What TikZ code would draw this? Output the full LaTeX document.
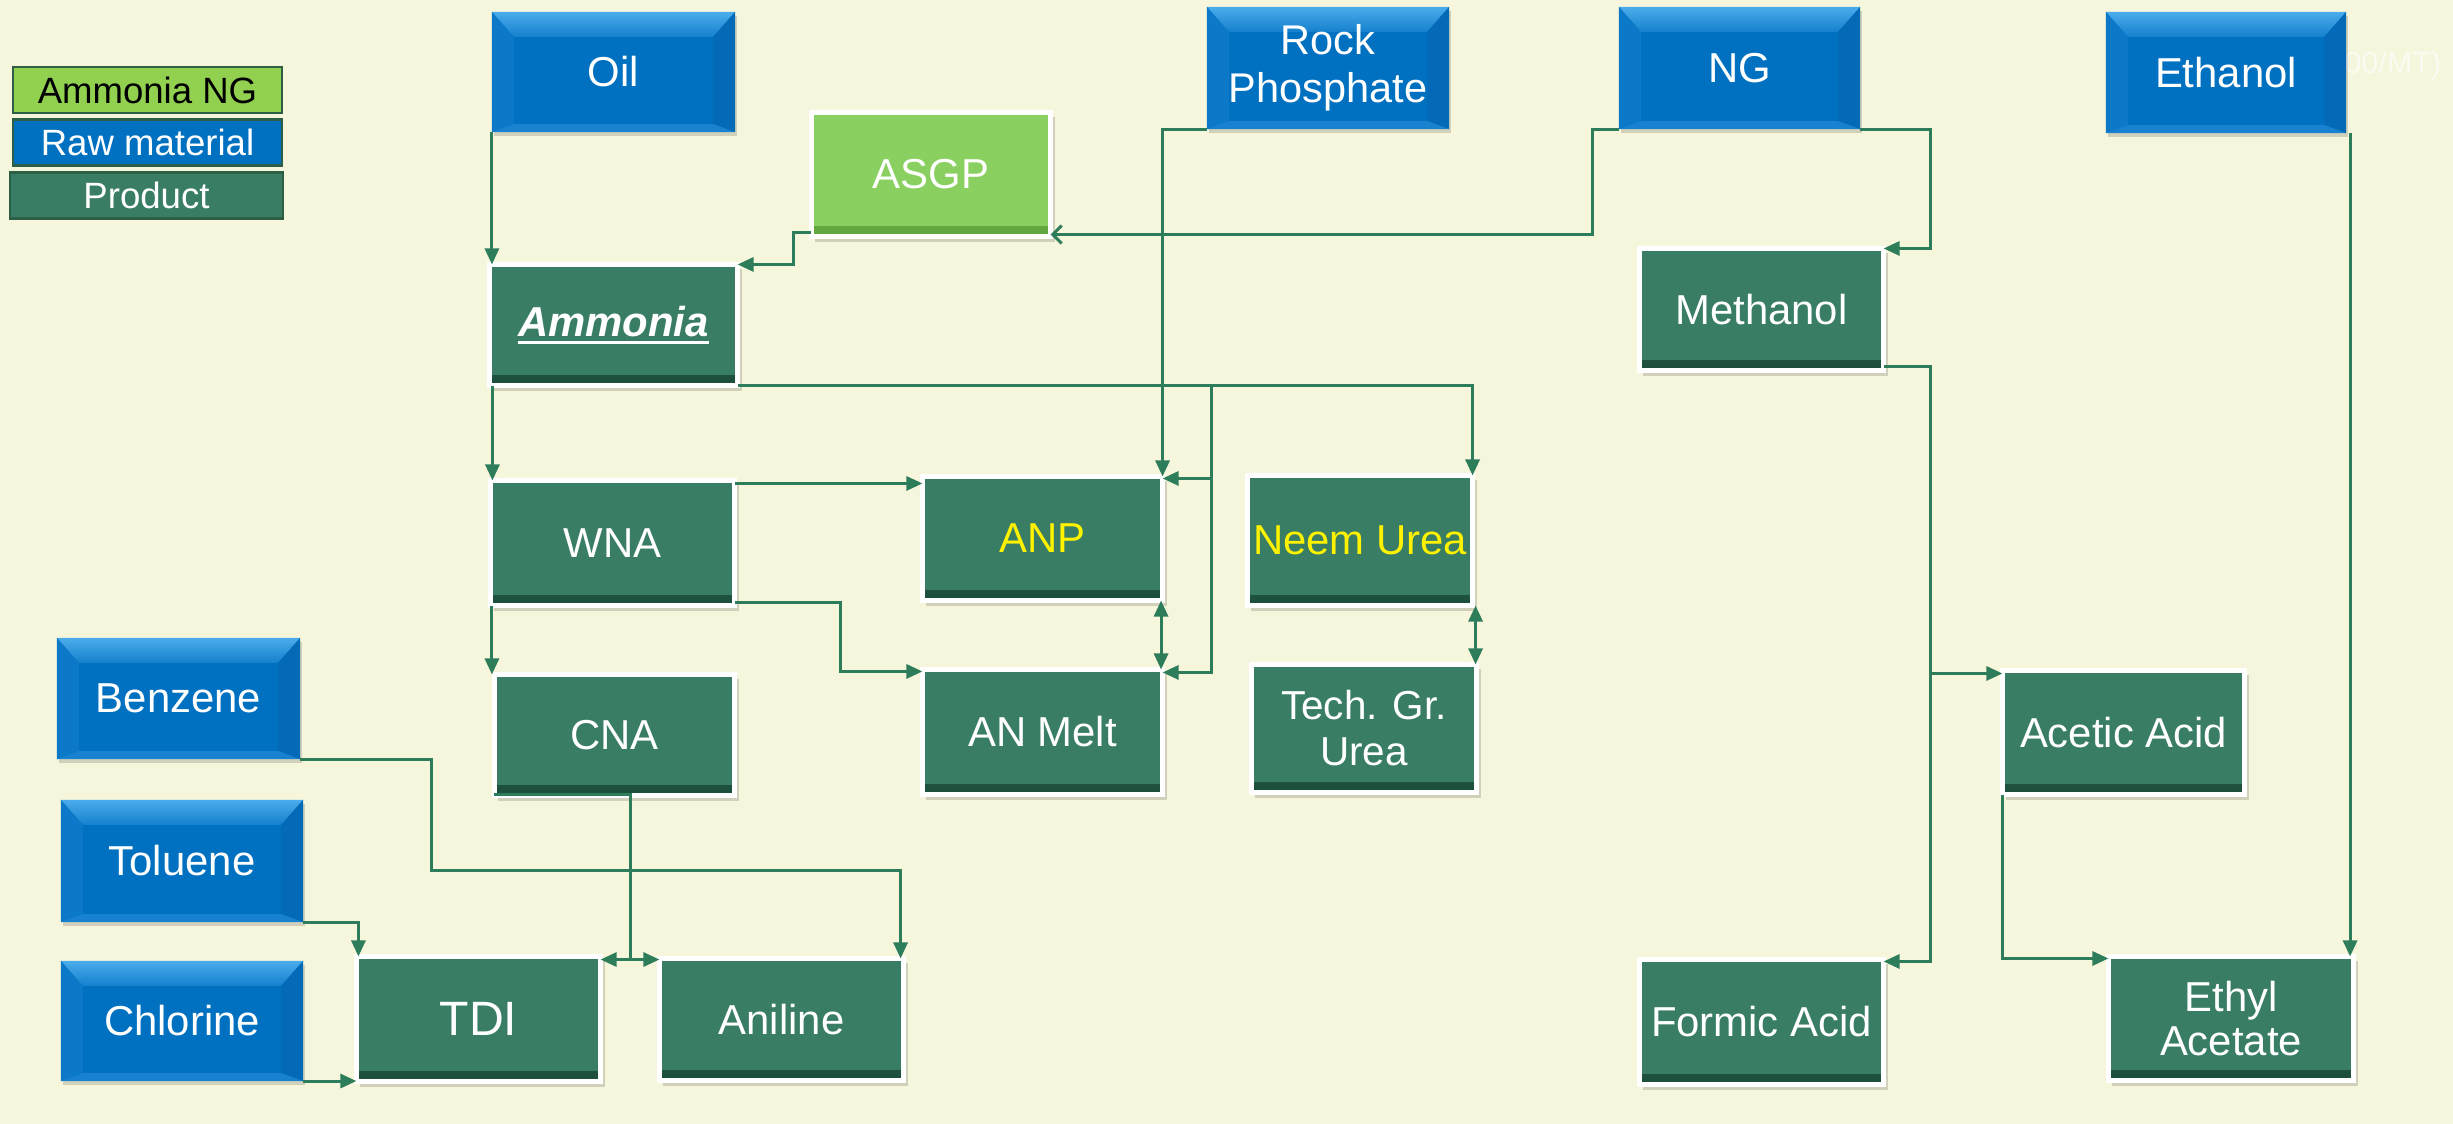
\documentclass[tikz,border=0pt]{standalone}
\usepackage{fontspec}
\setmainfont{Liberation Sans}
\usetikzlibrary{arrows.meta,shadows,calc}

\definecolor{bgc}{RGB}{246,246,220}
\definecolor{prodG}{RGB}{57,126,100}
\definecolor{prodD}{RGB}{28,78,58}
\definecolor{asgpG}{RGB}{138,208,96}
\definecolor{asgpD}{RGB}{95,165,60}
\definecolor{blueM}{RGB}{0,112,192}
\definecolor{blueTa}{RGB}{75,172,235}
\definecolor{blueTb}{RGB}{20,128,205}
\definecolor{blueL}{RGB}{12,120,200}
\definecolor{blueR}{RGB}{4,106,184}
\definecolor{blueB}{RGB}{25,130,208}
\definecolor{lineG}{RGB}{46,125,90}
\definecolor{legG}{RGB}{146,208,80}
\definecolor{legBd}{RGB}{45,95,70}

\newcommand\fB{\fontsize{11.9}{13.7}\selectfont}
\newcommand\fRP{\fontsize{11.8}{13.6}\selectfont}
\newcommand\fT{\fontsize{13.7}{15}\selectfont}
\newcommand\fL{\fontsize{10.4}{12}\selectfont}
\newcommand\fTG{\fontsize{11.5}{13.1}\selectfont}
\newcommand\fEA{\fontsize{11.9}{12.5}\selectfont}
\newcommand\fN{\fontsize{8.7}{10}\selectfont}
\newcommand\myul[1]{\sbox0{#1}\rlap{\rule[-0.17em]{\wd0}{0.07em}}\usebox0}

\tikzset{
  rawbox/.style={rectangle, inner sep=0pt, outer sep=0pt, fill=blueM, text=white,
    align=center, font=\fB,
    general shadow={shadow xshift=0.02cm, shadow yshift=-0.04cm, fill=black, opacity=0.15},
    path picture={
      \path (path picture bounding box.north west) coordinate (ppnw)
            (path picture bounding box.north east) coordinate (ppne)
            (path picture bounding box.south west) coordinate (ppsw)
            (path picture bounding box.south east) coordinate (ppse);
      \shade[top color=blueTa, bottom color=blueTb] (ppnw) -- (ppne) -- ([xshift=-0.22cm,yshift=-0.25cm]ppne) -- ([xshift=0.22cm,yshift=-0.25cm]ppnw) -- cycle;
      \fill[blueL] (ppnw) -- ([xshift=0.22cm,yshift=-0.25cm]ppnw) -- ([xshift=0.22cm,yshift=0.08cm]ppsw) -- (ppsw) -- cycle;
      \fill[blueR] (ppne) -- ([xshift=-0.22cm,yshift=-0.25cm]ppne) -- ([xshift=-0.22cm,yshift=0.08cm]ppse) -- (ppse) -- cycle;
      \fill[blueB] (ppsw) -- ([xshift=0.22cm,yshift=0.08cm]ppsw) -- ([xshift=-0.22cm,yshift=0.08cm]ppse) -- (ppse) -- cycle;
    }},
  prodbox/.style={rectangle, inner sep=0pt, outer sep=0pt, fill=prodG, draw=white,
    line width=0.05cm, text=white, align=center, font=\fB,
    general shadow={shadow xshift=0.04cm, shadow yshift=-0.05cm, fill=black, opacity=0.15},
    path picture={
      \shade[top color=prodG, bottom color=prodD] ([yshift=0.1cm]path picture bounding box.south west) rectangle (path picture bounding box.south east);
    }},
  asgpbox/.style={prodbox, fill=asgpG,
    path picture={
      \shade[top color=asgpG, bottom color=asgpD] ([yshift=0.1cm]path picture bounding box.south west) rectangle (path picture bounding box.south east);
    }},
  legbox/.style={rectangle, inner sep=0pt, outer sep=0pt, draw=legBd, line width=0.025cm,
    font=\fL, minimum width=2.69cm, minimum height=0.46cm},
  plain/.style={draw=lineG, line width=0.03cm},
  conn/.style={plain, -{Triangle[length=0.16cm,width=0.14cm]}},
  conntwo/.style={plain, {Triangle[length=0.16cm,width=0.14cm]}-{Triangle[length=0.16cm,width=0.14cm]}},
  connopen/.style={plain, -{Straight Barb[length=0.09cm,width=0.18cm,line width=0.03cm]}},
}

\begin{document}
\begin{tikzpicture}[x=0.01cm,y=-0.01cm]
\fill[bgc] (0,0) rectangle (2453,1124);
\useasboundingbox (0,0) rectangle (2453,1124);

% legend
\node[legbox, fill=legG, text=black] (legng) at (147.5,90) {Ammonia NG};
\node[legbox, fill=blueM, text=white] (legraw) at (147.5,142.5) {Raw material};
\node[legbox, fill=prodG, text=white, minimum width=2.73cm] (legprod) at (146.5,195.5) {Product};

% faint note partly behind Ethanol
\node[anchor=east, text=white, opacity=0.65, font=\fN, inner sep=0pt] (mtnote) at (2442,66) {00/MT)};

% raw materials
\node[rawbox, minimum width=2.43cm, minimum height=1.20cm] (oil) at (613.5,72) {Oil};
\node[rawbox, font=\fRP, minimum width=2.42cm, minimum height=1.22cm] (rockp) at (1328,68) {Rock\\Phosphate};
\node[rawbox, minimum width=2.41cm, minimum height=1.22cm] (ng) at (1739.5,68) {NG};
\node[rawbox, minimum width=2.40cm, minimum height=1.21cm] (ethanol) at (2226,72.5) {Ethanol};
\node[rawbox, minimum width=2.43cm, minimum height=1.21cm] (benzene) at (178.5,698.5) {Benzene};
\node[rawbox, minimum width=2.42cm, minimum height=1.22cm] (toluene) at (182,861) {Toluene};
\node[rawbox, minimum width=2.42cm, minimum height=1.20cm] (chlorine) at (182,1021) {Chlorine};

% products
\node[asgpbox, minimum width=2.39cm, minimum height=1.24cm] (asgp) at (931,174.5) {ASGP};
\node[prodbox, minimum width=2.48cm, minimum height=1.21cm] (ammonia) at (613.5,325) {\myul{\textbf{\textit{Ammonia}}}};
\node[prodbox, minimum width=2.44cm, minimum height=1.22cm] (methanol) at (1761.5,309.5) {Methanol};
\node[prodbox, minimum width=2.44cm, minimum height=1.25cm] (wna) at (612.5,543) {WNA};
\node[prodbox, text=yellow, minimum width=2.40cm, minimum height=1.24cm] (anp) at (1042.5,538.5) {ANP};
\node[prodbox, text=yellow, minimum width=2.25cm, minimum height=1.30cm] (neem) at (1360,540.5) {Neem Urea};
\node[prodbox, minimum width=2.40cm, minimum height=1.21cm] (cna) at (614.5,735) {CNA};
\node[prodbox, minimum width=2.40cm, minimum height=1.25cm] (anmelt) at (1042.5,732) {AN Melt};
\node[prodbox, font=\fTG, minimum width=2.25cm, minimum height=1.28cm] (tech) at (1364,728.5) {Tech. Gr.\\Urea};
\node[prodbox, minimum width=2.42cm, minimum height=1.24cm] (acetic) at (2123.5,732.5) {Acetic Acid};
\node[prodbox, font=\fT, minimum width=2.44cm, minimum height=1.25cm] (tdi) at (478.5,1019) {TDI};
\node[prodbox, minimum width=2.44cm, minimum height=1.22cm] (aniline) at (781.5,1019.5) {Aniline};
\node[prodbox, minimum width=2.44cm, minimum height=1.25cm] (formic) at (1761.5,1022) {Formic Acid};
\node[prodbox, font=\fEA, minimum width=2.45cm, minimum height=1.24cm] (ethyl) at (2231,1018.5) {Ethyl\\Acetate};

% connectors
\draw[conn] (oil.south west) -- (oil.south west |- ammonia.north);
\draw[conn] ([yshift=0.04cm]asgp.south west) -- ++(-18,0) |- (ammonia.north east);
\draw[connopen] (ng.south west) -- ++(-26,0) |- ([yshift=0.02cm]asgp.south east);
\draw[conn] (rockp.south west) -| (anp.north east);
\draw[conn] (ng.south east) -- ++(70,0) |- (methanol.north east);

\coordinate (e1) at ([xshift=0.04cm]ethanol.south east);
\draw[conn] (e1) -- (e1 |- ethyl.north);

\draw[conn] ([yshift=0.04cm]methanol.south east) -- ++(46.5,0) coordinate (mbus) |- ([yshift=-0.02cm]formic.north east);
\coordinate (acin) at ([yshift=-0.03cm]acetic.north west);
\draw[conn] (mbus |- acin) -- (acin);
\draw[conn] (acetic.south west) |- ([yshift=-0.02cm]ethyl.north west);

\coordinate (a1) at ([xshift=0.03cm]ammonia.south west);
\draw[conn] (a1) -- (a1 |- wna.north);
\draw[conn] (ammonia.south east) -| (neem.north east);
\coordinate (abus) at ([xshift=4.735cm]ammonia.south east);
\draw[conn] (abus) |- ([yshift=-0.02cm]anp.north east);
\draw[conn] (abus) |- ([yshift=-0.03cm]anmelt.north east);

\coordinate (w1) at ([yshift=-0.03cm]wna.north east);
\draw[conn] (w1) -- (w1 -| anp.west);
\draw[conn] ([yshift=0.03cm]wna.south east) -- ++(105.5,0) |- ([yshift=-0.02cm]anmelt.north west);
\coordinate (w2) at ([xshift=0.015cm]wna.south west);
\draw[conn] (w2) -- (w2 |- cna.north);

\coordinate (p1) at ([xshift=-0.015cm]anp.south east);
\draw[conntwo] (p1) -- (p1 |- anmelt.north);
\coordinate (n1) at ([xshift=0.03cm]neem.south east);
\draw[conntwo] (n1) -- (n1 |- tech.north);

\draw[conn] (benzene.south east) -- ++(131,0) -- ++(0,111) -| ([xshift=-0.03cm]aniline.north east);
\draw[conn] (toluene.south east) -| ([xshift=0.02cm]tdi.north west);
\coordinate (c1) at (chlorine.south east);
\draw[conn] (c1) -- (c1 -| tdi.west);

\draw[plain] ([yshift=0.01cm]cna.south west) -- ++(136,0) -- ++(0,165) coordinate (cj);
\draw[conn] (cj) -- (cj -| tdi.east);
\draw[conn] (cj) -- (cj -| aniline.west);
\end{tikzpicture}
\end{document}
